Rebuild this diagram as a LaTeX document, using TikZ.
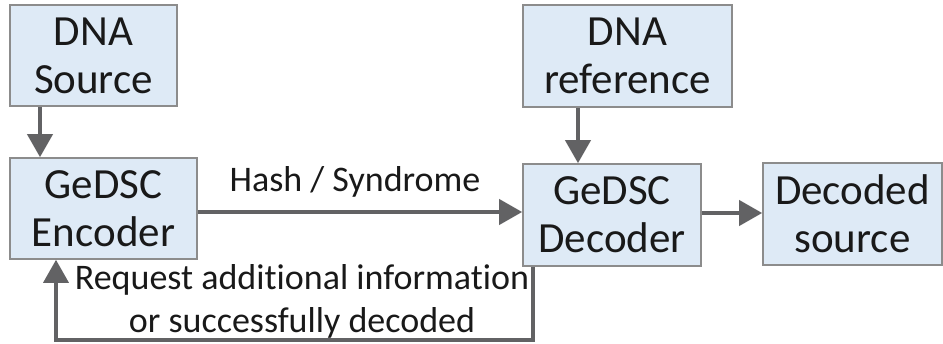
\documentclass[tikz,border=0pt]{standalone}
\usepackage{fontspec}
\setmainfont{Carlito}[Ligatures=NoCommon]
\usetikzlibrary{arrows.meta}
\definecolor{boxfill}{RGB}{222,234,246}
\definecolor{boxline}{RGB}{140,140,140}
\definecolor{wire}{RGB}{98,98,100}
\definecolor{ink}{RGB}{25,25,25}
\begin{document}
\begin{tikzpicture}[x=1pt,y=1pt,
  block/.style={draw=boxline, line width=1.6pt, fill=boxfill, text=ink,
    align=center, inner sep=0pt, font=\fontsize{43}{48}\selectfont},
  flow/.style={draw=wire, line width=4pt,
    -{Triangle[length=23pt,width=25pt]}},
  back/.style={draw=wire, line width=3.5pt,
    -{Triangle[length=23pt,width=25pt]}},
  lbl/.style={text=ink, align=center, inner sep=0pt,
    font=\fontsize{36}{43}\selectfont}]
\useasboundingbox (0,0) rectangle (943,343);

% blocks
\node[block, minimum width=167pt, minimum height=101pt] (src) at (93.5,287.5) {DNA\\Source};
\node[block, minimum width=187pt, minimum height=101pt] (enc) at (103.5,134.5) {GeDSC\\Encoder};
\node[block, minimum width=209pt, minimum height=102pt] (ref) at (627.5,287) {DNA\\reference};
\node[block, minimum width=178pt, minimum height=102pt] (dec) at (612,128) {GeDSC\\Decoder};
\node[block, minimum width=179pt, minimum height=102pt] (out) at (852.5,129) {Decoded\\source};

% guide points for the connectors
\coordinate (xs) at (40,0);
\coordinate (xr) at (578,0);
\coordinate (yh) at (0,131);
\coordinate (yo) at (0,130);
\coordinate (xd) at (533,0);
\coordinate (xe) at (56,0);
\coordinate (ybot) at (0,3);

% connectors
\draw[flow] (src.south -| xs) -- (enc.north -| xs);
\draw[flow] (ref.south -| xr) -- (dec.north -| xr);
\draw[flow] (enc.east |- yh) -- (dec.west |- yh);
\draw[flow] (dec.east |- yo) -- (out.west |- yo);
\draw[back] (dec.south -| xd) -- (xd |- ybot) -- (xe |- ybot) -- (enc.south -| xe);

% labels
\node[lbl] (hashlbl) at (355,161) {Hash / Syndrome};
\node[lbl] (fblbl) at (302,42) {Request additional information\\or successfully decoded};
\end{tikzpicture}
\end{document}
